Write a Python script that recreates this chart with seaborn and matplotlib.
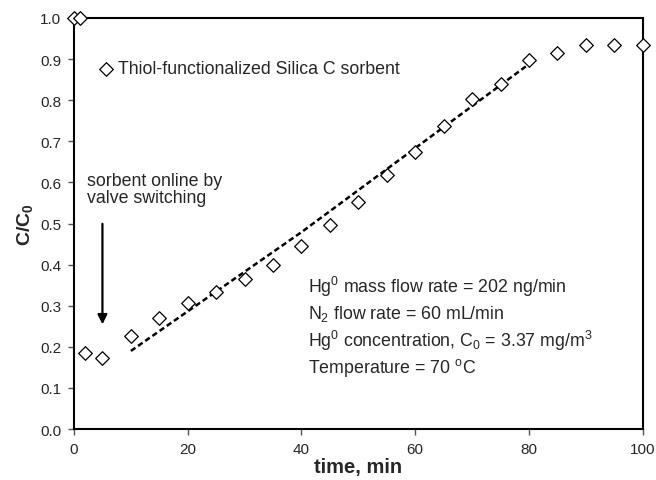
import matplotlib
matplotlib.use("Agg")
import matplotlib.pyplot as plt
import seaborn as sns

# breakthrough data
time_min = [0, 1, 2, 5, 10, 15, 20, 25, 30, 35, 40, 45, 50, 55, 60, 65, 70, 75, 80, 85, 90, 95, 100]
c_ratio = [1.0, 1.0, 0.185, 0.173, 0.226, 0.27, 0.307, 0.333, 0.365, 0.399, 0.445, 0.496,
           0.552, 0.618, 0.674, 0.737, 0.803, 0.839, 0.898, 0.915, 0.934, 0.934, 0.934]

# trend line through the breakthrough region
fit_x = [10, 40, 80.5]
fit_y = [0.19, 0.479, 0.893]

x_ticks = [0, 20, 40, 60, 80, 100]
y_ticks = [0.0, 0.1, 0.2, 0.3, 0.4, 0.5, 0.6, 0.7, 0.8, 0.9, 1.0]

sns.set_style("white")
plt.rcParams['font.family'] = ['Liberation Sans', 'DejaVu Sans']
plt.rcParams['mathtext.fontset'] = 'custom'
plt.rcParams['mathtext.rm'] = 'Liberation Sans'
plt.rcParams['mathtext.it'] = 'Liberation Sans:italic'
plt.rcParams['mathtext.bf'] = 'Liberation Sans:bold'

fig = plt.figure(figsize=(6.56, 4.81), dpi=100)
ax = fig.add_axes([0.1128, 0.106, 0.867, 0.8545])

sns.lineplot(x=fit_x, y=fit_y, ax=ax, color='black', linewidth=1.8,
             linestyle=(0, (2.2, 1.3)), zorder=2)
sns.scatterplot(x=time_min, y=c_ratio, ax=ax, marker='D', s=48,
                facecolor='white', edgecolor='black', linewidth=0.9,
                clip_on=False, zorder=3, label='Thiol-functionalized Silica C sorbent')

ax.set_xlim(0, 100)
ax.set_ylim(0, 1.0)
ax.set_xticks(x_ticks)
ax.set_yticks(y_ticks)
ax.set_yticklabels([f'{v:.1f}' for v in y_ticks])
ax.tick_params(direction='out', length=4, width=1, color='#555555', labelsize=11, pad=5)
ax.tick_params(axis='both', bottom=True, left=True)
for sp in ax.spines.values():
    sp.set_linewidth(1.5)
    sp.set_color('black')

ax.set_xlabel('time, min', fontsize=14.5, fontweight='bold', labelpad=1)
ax.set_ylabel(r'C/C$_\mathbf{0}$', fontsize=14, fontweight='bold', labelpad=4)

ax.legend(loc='center left', bbox_to_anchor=(0.047, 0.876), frameon=False,
          fontsize=12.8, handlelength=0.6, handletextpad=0.35,
          borderaxespad=0, borderpad=0, markerscale=1.0)

ax.text(2.3, 0.584, 'sorbent online by\nvalve switching', fontsize=12.8, va='center', ha='left',
        linespacing=1.05)
ax.annotate('', xy=(5, 0.248), xytext=(5, 0.506),
            arrowprops=dict(arrowstyle='-|>', color='black', lw=1.6, mutation_scale=14))

params = [r'Hg$^0$ mass flow rate = 202 ng/min',
          r'N$_2$ flow rate = 60 mL/min',
          r'Hg$^0$ concentration, C$_0$ = 3.37 mg/m$^3$',
          r'Temperature = 70 $^\mathrm{o}$C']
for i, s in enumerate(params):
    ax.text(41.2, 0.348 - i * 0.0657, s, fontsize=12.8, va='center', ha='left')

fig.savefig('out.png', dpi=100)
